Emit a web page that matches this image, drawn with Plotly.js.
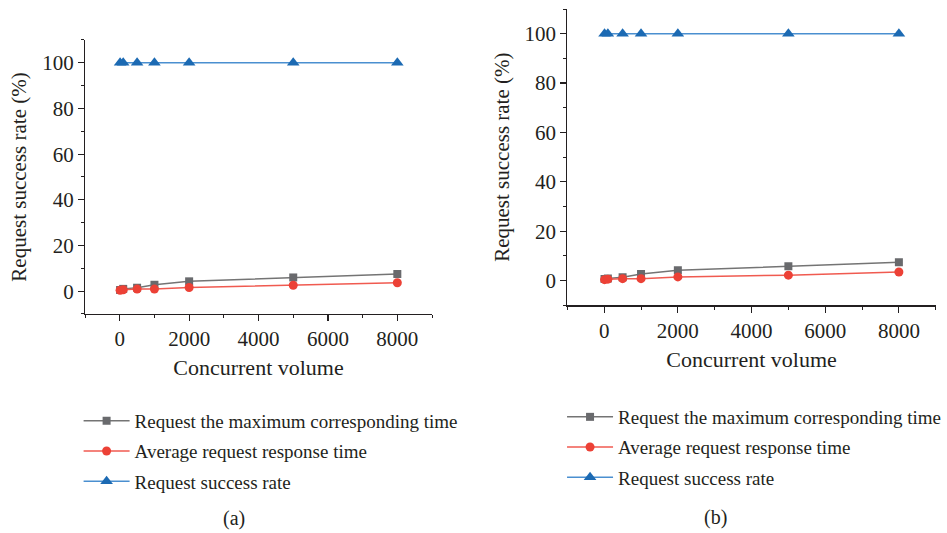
<!DOCTYPE html>
<html>
<head>
<meta charset="utf-8">
<script src="https://cdn.plot.ly/plotly-3.0.1.min.js"></script>
<style>html,body{margin:0;padding:0;background:#fff;}#chart{width:947px;height:533px;}</style>
</head>
<body>
<div id="chart"></div>
<script>
// Data
const concurrent = [10, 100, 500, 1000, 2000, 5000, 8000];
const maxTimeA = [0.5, 1.0, 1.5, 2.8, 4.3, 6.0, 7.5];
const avgTimeA = [0.4, 0.6, 0.9, 0.9, 1.6, 2.6, 3.7];
const successA = [100, 100, 100, 100, 100, 100, 100];
const maxTimeB = [0.7, 0.9, 1.4, 2.7, 4.2, 5.8, 7.4];
const avgTimeB = [0.4, 0.6, 0.8, 0.8, 1.5, 2.2, 3.5];
const successB = [100, 100, 100, 100, 100, 100, 100];
const seriesNames = ["Request the maximum corresponding time", "Average request response time", "Request success rate"];
const panelLabels = ["(a)", "(b)"];
const xTitle = "Concurrent volume";
const yTitle = "Request success rate (%)";

const FONT = "'Liberation Serif', 'Times New Roman', serif";
const INK = "#231f20";
const styles = [
  {line: "#747474", marker: "#696a6d", symbol: "square", size: 8},
  {line: "#f05a50", marker: "#ec4136", symbol: "circle", size: 9},
  {line: "#4a8fd0", marker: "#1c6ab3", symbol: "triangle-up", size: 11}
];

function mk(x, y, i, xa, ya, leg) {
  return {
    x: x, y: y, type: "scatter", mode: "lines+markers", name: seriesNames[i],
    xaxis: xa, yaxis: ya, legend: leg, legendgroup: leg + i,
    line: {color: styles[i].line, width: 1.5},
    marker: {color: styles[i].marker, symbol: styles[i].symbol, size: styles[i].size}
  };
}
const data = [
  mk(concurrent, maxTimeA, 0, "x", "y", "legend"),
  mk(concurrent, avgTimeA, 1, "x", "y", "legend"),
  mk(concurrent, successA, 2, "x", "y", "legend"),
  mk(concurrent, maxTimeB, 0, "x2", "y2", "legend2"),
  mk(concurrent, avgTimeB, 1, "x2", "y2", "legend2"),
  mk(concurrent, successB, 2, "x2", "y2", "legend2")
];

function xax(domain, anchor) {
  return {
    domain: domain, anchor: anchor, range: [-1000, 9000], tickvals: [0, 2000, 4000, 6000, 8000],
    showgrid: false, zeroline: false, showline: true, linecolor: INK, linewidth: 1.2,
    ticks: "outside", ticklen: 6, tickwidth: 1.2, tickcolor: INK,
    minor: {ticks: "outside", tickvals: [-1000, 1000, 3000, 5000, 7000, 9000], ticklen: 3, tickwidth: 1, tickcolor: INK, showgrid: false},
    tickfont: {family: FONT, size: 21, color: INK},
    title: {text: xTitle, font: {family: FONT, size: 22, color: INK}, standoff: 9}
  };
}
function yax(domain, anchor) {
  return {
    domain: domain, anchor: anchor, range: [-10, 110], tickvals: [0, 20, 40, 60, 80, 100],
    showgrid: false, zeroline: false, showline: true, linecolor: INK, linewidth: 1.2,
    ticks: "outside", ticklen: 6, tickwidth: 1.2, tickcolor: INK,
    minor: {ticks: "outside", tickvals: [-10, 10, 30, 50, 70, 90, 110], ticklen: 3, tickwidth: 1, tickcolor: INK, showgrid: false},
    tickfont: {family: FONT, size: 21, color: INK},
    title: {text: yTitle, font: {family: FONT, size: 21, color: INK}, standoff: 9}
  };
}
function leg(x, y) {
  return {x: x, y: y, xanchor: "left", yanchor: "top", xref: "paper", yref: "paper",
    font: {family: FONT, size: 19, color: INK}, bgcolor: "rgba(0,0,0,0)",
    tracegroupgap: 2.5, traceorder: "grouped", itemwidth: 46};
}

const layout = {
  width: 947, height: 533, margin: {l: 0, r: 0, t: 0, b: 0},
  paper_bgcolor: "#fff", plot_bgcolor: "#fff", showlegend: true,
  xaxis: xax([0.0898, 0.4562], "y"),
  yaxis: yax([0.4109, 0.9250], "x"),
  xaxis2: xax([0.5991, 0.9881], "y2"),
  yaxis2: yax([0.4272, 0.9831], "x2"),
  legend: leg(0.083, 1 - 402 / 533),
  legend2: leg(0.5935, 1 - 398 / 533),
  annotations: [
    {text: panelLabels[0], x: 234 / 947, y: 1 - 518 / 533, xref: "paper", yref: "paper", showarrow: false,
     xanchor: "center", yanchor: "middle", font: {family: FONT, size: 20, color: INK}},
    {text: panelLabels[1], x: 715 / 947, y: 1 - 517 / 533, xref: "paper", yref: "paper", showarrow: false,
     xanchor: "center", yanchor: "middle", font: {family: FONT, size: 20, color: INK}}
  ]
};

Plotly.newPlot("chart", data, layout, {displayModeBar: false, staticPlot: true});
</script>
</body>
</html>
